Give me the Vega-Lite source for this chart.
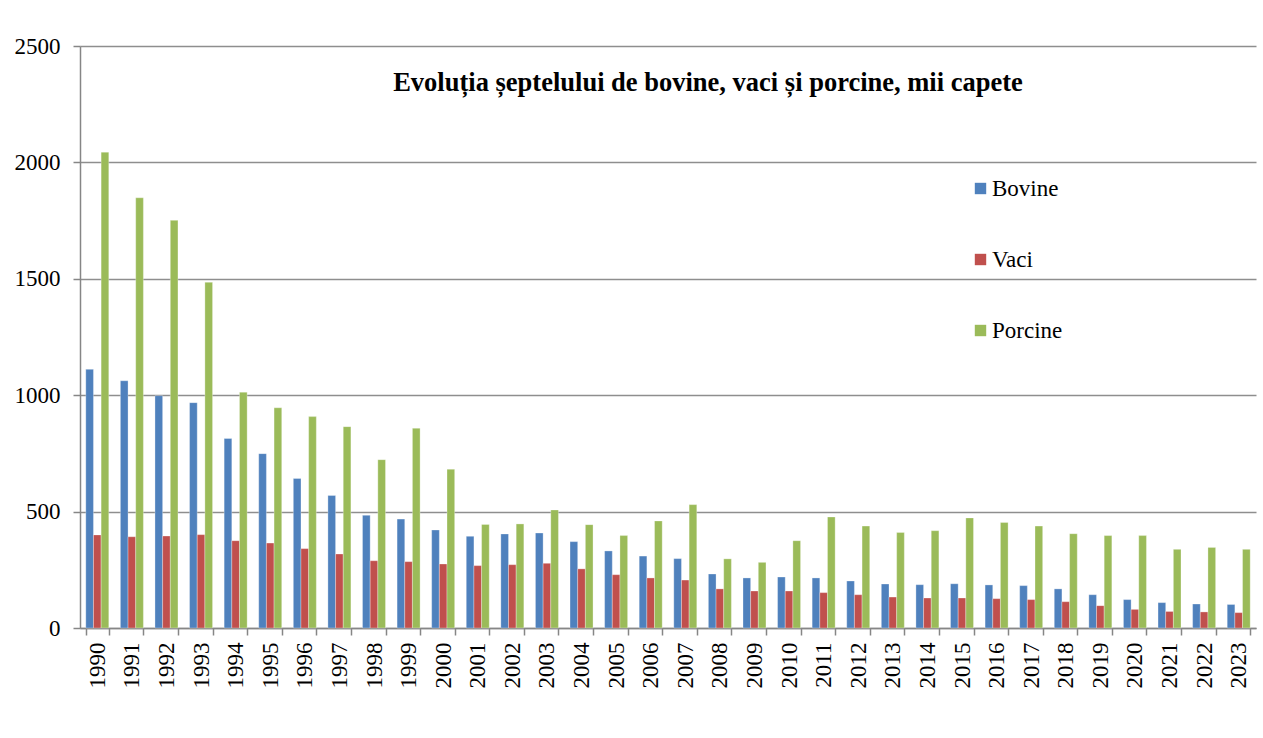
{
  "$schema": "https://vega.github.io/schema/vega-lite/v6.json",
  "autosize": {"type": "none"},
  "padding": {"left": 80, "top": 46, "right": 7, "bottom": 64},
  "width": 1176,
  "height": 582,
  "background": "white",
  "title": {
    "text": "Evoluția șeptelului de bovine, vaci și porcine, mii capete",
    "font": "Liberation Serif",
    "fontSize": 26.5,
    "fontWeight": "bold",
    "color": "black",
    "anchor": "middle",
    "frame": "group",
    "dx": 40,
    "offset": -61
  },
  "data": {
    "values": [
      {"year": "1990", "series": "Bovine", "value": 1111}, {"year": "1990", "series": "Vaci", "value": 400}, {"year": "1990", "series": "Porcine", "value": 2044},
      {"year": "1991", "series": "Bovine", "value": 1062}, {"year": "1991", "series": "Vaci", "value": 392}, {"year": "1991", "series": "Porcine", "value": 1848},
      {"year": "1992", "series": "Bovine", "value": 998}, {"year": "1992", "series": "Vaci", "value": 395}, {"year": "1992", "series": "Porcine", "value": 1751},
      {"year": "1993", "series": "Bovine", "value": 968}, {"year": "1993", "series": "Vaci", "value": 401}, {"year": "1993", "series": "Porcine", "value": 1485},
      {"year": "1994", "series": "Bovine", "value": 814}, {"year": "1994", "series": "Vaci", "value": 375}, {"year": "1994", "series": "Porcine", "value": 1013},
      {"year": "1995", "series": "Bovine", "value": 749}, {"year": "1995", "series": "Vaci", "value": 365}, {"year": "1995", "series": "Porcine", "value": 946},
      {"year": "1996", "series": "Bovine", "value": 642}, {"year": "1996", "series": "Vaci", "value": 341}, {"year": "1996", "series": "Porcine", "value": 908},
      {"year": "1997", "series": "Bovine", "value": 569}, {"year": "1997", "series": "Vaci", "value": 318}, {"year": "1997", "series": "Porcine", "value": 865},
      {"year": "1998", "series": "Bovine", "value": 484}, {"year": "1998", "series": "Vaci", "value": 289}, {"year": "1998", "series": "Porcine", "value": 723},
      {"year": "1999", "series": "Bovine", "value": 468}, {"year": "1999", "series": "Vaci", "value": 285}, {"year": "1999", "series": "Porcine", "value": 858},
      {"year": "2000", "series": "Bovine", "value": 421}, {"year": "2000", "series": "Vaci", "value": 275}, {"year": "2000", "series": "Porcine", "value": 682},
      {"year": "2001", "series": "Bovine", "value": 394}, {"year": "2001", "series": "Vaci", "value": 268}, {"year": "2001", "series": "Porcine", "value": 445},
      {"year": "2002", "series": "Bovine", "value": 404}, {"year": "2002", "series": "Vaci", "value": 272}, {"year": "2002", "series": "Porcine", "value": 447},
      {"year": "2003", "series": "Bovine", "value": 408}, {"year": "2003", "series": "Vaci", "value": 278}, {"year": "2003", "series": "Porcine", "value": 507},
      {"year": "2004", "series": "Bovine", "value": 371}, {"year": "2004", "series": "Vaci", "value": 254}, {"year": "2004", "series": "Porcine", "value": 444},
      {"year": "2005", "series": "Bovine", "value": 331}, {"year": "2005", "series": "Vaci", "value": 229}, {"year": "2005", "series": "Porcine", "value": 397},
      {"year": "2006", "series": "Bovine", "value": 309}, {"year": "2006", "series": "Vaci", "value": 215}, {"year": "2006", "series": "Porcine", "value": 460},
      {"year": "2007", "series": "Bovine", "value": 298}, {"year": "2007", "series": "Vaci", "value": 206}, {"year": "2007", "series": "Porcine", "value": 530},
      {"year": "2008", "series": "Bovine", "value": 232}, {"year": "2008", "series": "Vaci", "value": 168}, {"year": "2008", "series": "Porcine", "value": 297},
      {"year": "2009", "series": "Bovine", "value": 215}, {"year": "2009", "series": "Vaci", "value": 159}, {"year": "2009", "series": "Porcine", "value": 282},
      {"year": "2010", "series": "Bovine", "value": 219}, {"year": "2010", "series": "Vaci", "value": 159}, {"year": "2010", "series": "Porcine", "value": 375},
      {"year": "2011", "series": "Bovine", "value": 215}, {"year": "2011", "series": "Vaci", "value": 152}, {"year": "2011", "series": "Porcine", "value": 477},
      {"year": "2012", "series": "Bovine", "value": 202}, {"year": "2012", "series": "Vaci", "value": 143}, {"year": "2012", "series": "Porcine", "value": 438},
      {"year": "2013", "series": "Bovine", "value": 189}, {"year": "2013", "series": "Vaci", "value": 133}, {"year": "2013", "series": "Porcine", "value": 410},
      {"year": "2014", "series": "Bovine", "value": 186}, {"year": "2014", "series": "Vaci", "value": 129}, {"year": "2014", "series": "Porcine", "value": 418},
      {"year": "2015", "series": "Bovine", "value": 190}, {"year": "2015", "series": "Vaci", "value": 129}, {"year": "2015", "series": "Porcine", "value": 473},
      {"year": "2016", "series": "Bovine", "value": 185}, {"year": "2016", "series": "Vaci", "value": 126}, {"year": "2016", "series": "Porcine", "value": 453},
      {"year": "2017", "series": "Bovine", "value": 182}, {"year": "2017", "series": "Vaci", "value": 122}, {"year": "2017", "series": "Porcine", "value": 438},
      {"year": "2018", "series": "Bovine", "value": 168}, {"year": "2018", "series": "Vaci", "value": 113}, {"year": "2018", "series": "Porcine", "value": 405},
      {"year": "2019", "series": "Bovine", "value": 143}, {"year": "2019", "series": "Vaci", "value": 96}, {"year": "2019", "series": "Porcine", "value": 397},
      {"year": "2020", "series": "Bovine", "value": 122}, {"year": "2020", "series": "Vaci", "value": 80}, {"year": "2020", "series": "Porcine", "value": 397},
      {"year": "2021", "series": "Bovine", "value": 109}, {"year": "2021", "series": "Vaci", "value": 71}, {"year": "2021", "series": "Porcine", "value": 338},
      {"year": "2022", "series": "Bovine", "value": 103}, {"year": "2022", "series": "Vaci", "value": 69}, {"year": "2022", "series": "Porcine", "value": 346},
      {"year": "2023", "series": "Bovine", "value": 101}, {"year": "2023", "series": "Vaci", "value": 66}, {"year": "2023", "series": "Porcine", "value": 338}
    ]
  },
  "mark": {"type": "bar", "stroke": "white", "strokeWidth": 0.5, "strokeOpacity": 0.6},
  "encoding": {
    "x": {
      "field": "year",
      "type": "nominal",
      "scale": {"paddingInner": 0.335, "paddingOuter": 0.1675},
      "axis": {
        "title": null,
        "labelAngle": -90,
        "labelAlign": "right",
        "labelBaseline": "middle",
        "labelFont": "Liberation Serif",
        "labelFontSize": 23,
        "labelColor": "black",
        "labelPadding": 7,
        "tickBand": "extent",
        "tickSize": 7,
        "tickColor": "#868686",
        "tickWidth": 1.5,
        "domainColor": "#868686",
        "domainWidth": 1.5,
        "grid": false
      }
    },
    "xOffset": {"field": "series", "type": "nominal", "sort": ["Bovine", "Vaci", "Porcine"], "scale": {"paddingInner": 0, "paddingOuter": 0}},
    "y": {
      "field": "value",
      "type": "quantitative",
      "scale": {"domain": [0, 2500], "nice": false},
      "axis": {
        "title": null,
        "values": [0, 500, 1000, 1500, 2000, 2500],
        "format": "d",
        "labelFont": "Liberation Serif",
        "labelFontSize": 23,
        "labelColor": "black",
        "labelPadding": 13,
        "tickSize": 7,
        "tickColor": "#868686",
        "tickWidth": 1.5,
        "domainColor": "#868686",
        "domainWidth": 1.5,
        "grid": true,
        "gridColor": "#8e8e8e",
        "gridWidth": 1.5
      }
    },
    "color": {
      "field": "series",
      "type": "nominal",
      "sort": ["Bovine", "Vaci", "Porcine"],
      "scale": {"domain": ["Bovine", "Vaci", "Porcine"], "range": ["#4F81BD", "#C0504D", "#9BBB59"]},
      "legend": {
        "title": null,
        "orient": "none",
        "legendX": 889,
        "legendY": 131,
        "symbolType": "square",
        "symbolSize": 130,
        "symbolStrokeWidth": 0,
        "labelFont": "Liberation Serif",
        "labelFontSize": 23,
        "labelColor": "black",
        "labelOffset": 0,
        "rowPadding": 47
      }
    }
  },
  "config": {
    "view": {"stroke": null}
  }
}
